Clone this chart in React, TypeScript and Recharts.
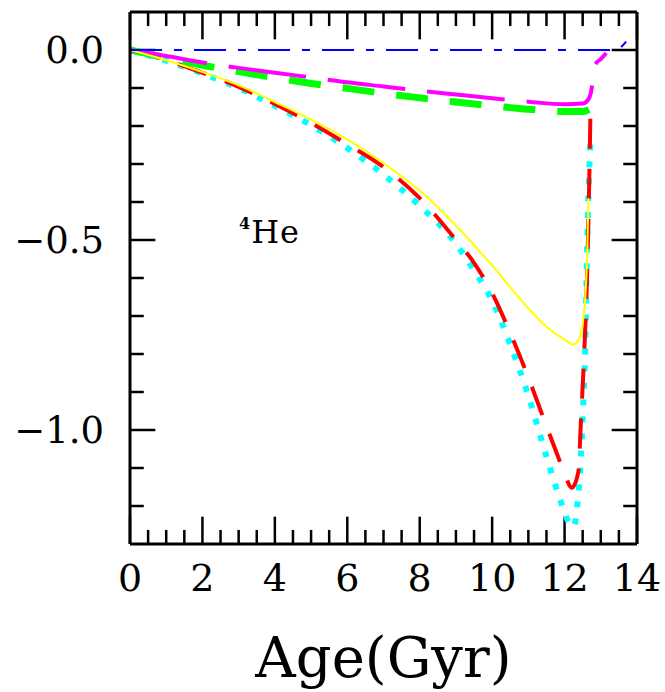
import { Line, LineChart, ReferenceLine, XAxis, YAxis } from "recharts";

// tick positions
const xTicks = [0, 2, 4, 6, 8, 10, 12, 14];
const xMinorTicks = [0.5, 1, 1.5, 2.5, 3, 3.5, 4.5, 5, 5.5, 6.5, 7, 7.5, 8.5, 9, 9.5, 10.5, 11, 11.5, 12.5, 13, 13.5];
const yTicks = [0, -0.5, -1.0];
const yMinorTicks = [-0.1, -0.2, -0.3, -0.4, -0.6, -0.7, -0.8, -0.9, -1.1, -1.2];

// reference (dash-dot blue)
const blueAge = [0, 13.4, 13.7];
const blueVal = [0, 0, 0.022];

// magenta long dashes
const magentaAge = [0, 1, 2, 3, 4, 5, 6, 7, 8, 9, 10, 11, 12, 12.5, 12.65, 12.72, 12.77, 12.8, 12.87, 13.0, 13.15];
const magentaVal = [0, -0.016, -0.033, -0.047, -0.06, -0.072, -0.085, -0.096, -0.107, -0.117, -0.127, -0.136, -0.143, -0.141, -0.131, -0.115, -0.085, -0.05, -0.035, -0.024, -0.008];

// green thick dashes
const greenAge = [0, 1, 2, 3, 4, 5, 6, 7, 8, 9, 10, 11, 12, 12.5, 12.7];
const greenVal = [0, -0.02, -0.04, -0.057, -0.073, -0.088, -0.101, -0.114, -0.126, -0.137, -0.147, -0.156, -0.162, -0.162, -0.155];

// yellow solid
const yellowAge = [0, 1, 2, 3, 4, 5, 6, 7, 8, 9, 10, 11, 11.5, 12, 12.25, 12.4, 12.5, 12.58, 12.63, 12.66];
const yellowVal = [0, -0.027, -0.058, -0.093, -0.137, -0.183, -0.235, -0.298, -0.37, -0.462, -0.567, -0.68, -0.728, -0.762, -0.775, -0.76, -0.72, -0.64, -0.52, -0.39];

// red dashes
const redAge = [0, 1, 2, 3, 4, 5, 6, 7, 8, 9, 9.5, 10, 10.5, 11, 11.5, 11.8, 12.0, 12.2, 12.38, 12.45, 12.55, 12.62, 12.68, 12.72];
const redVal = [0, -0.027, -0.06, -0.097, -0.142, -0.192, -0.248, -0.308, -0.39, -0.5, -0.56, -0.64, -0.745, -0.862, -0.99, -1.065, -1.115, -1.152, -1.11, -0.98, -0.78, -0.6, -0.35, -0.135];

// cyan dots
const cyanAge = [0, 1, 2, 3, 4, 5, 6, 7, 8, 9, 9.5, 10, 10.5, 11, 11.5, 11.9, 12.1, 12.25, 12.35, 12.45, 12.52, 12.57, 12.62, 12.68, 12.72];
const cyanVal = [0, -0.028, -0.062, -0.1, -0.147, -0.198, -0.258, -0.328, -0.41, -0.51, -0.58, -0.66, -0.775, -0.91, -1.07, -1.19, -1.24, -1.255, -1.2, -1.07, -0.92, -0.79, -0.53, -0.32, -0.225];

const toPoints = (ages: number[], vals: number[]) => ages.map((x, i) => ({ x, y: vals[i] }));

const FONT = "DejaVu Serif";
const X_MIN = 0, X_MAX = 14;
const Y_MIN = -1.3, Y_MAX = 0.1;

// tick lengths in data units (x: ~36 px/Gyr, y: 380 px/unit)
const X_TICK_MAJ = 0.072, X_TICK_MIN = 0.037;
const Y_TICK_MAJ = 0.7, Y_TICK_MIN = 0.38;

const fmtY = (v: number) => (v === 0 ? "0.0" : "\u2212" + Math.abs(v).toFixed(1));

export default function App() {
    const series = [
        { key: "cyan", data: toPoints(cyanAge, cyanVal), color: "#00ffff", width: 6, dash: "6 11" },
        { key: "red", data: toPoints(redAge, redVal), color: "#ff0000", width: 4, dash: "30 20" },
        { key: "green", data: toPoints(greenAge, greenVal), color: "#00ff00", width: 7, dash: "32 22" },
        { key: "magenta", data: toPoints(magentaAge, magentaVal), color: "#ff00ff", width: 4, dash: "78 22" },
        { key: "yellow", data: toPoints(yellowAge, yellowVal), color: "#ffff00", width: 2, dash: undefined },
        { key: "blue", data: toPoints(blueAge, blueVal), color: "#0000ff", width: 2, dash: "32 12 8 12" },
    ];

    const frame = { stroke: "#000", strokeWidth: 3 };

    // inward tick marks on all four sides
    const xTickMarks = [
        ...xTicks.map(x => ({ x, len: X_TICK_MAJ })),
        ...xMinorTicks.map(x => ({ x, len: X_TICK_MIN })),
    ];
    const yTickMarks = [
        ...yTicks.map(y => ({ y, len: Y_TICK_MAJ })),
        ...yMinorTicks.map(y => ({ y, len: Y_TICK_MIN })),
    ];

    return (
        <div style={{ position: "absolute", left: 0, top: 0, background: "#fff" }}>
            <LineChart width={665} height={692} margin={{ top: 12, right: 28, left: 10, bottom: 8 }}>
                <XAxis
                    xAxisId="x"
                    dataKey="x"
                    type="number"
                    domain={[X_MIN, X_MAX]}
                    allowDataOverflow
                    ticks={xTicks}
                    interval={0}
                    height={140}
                    tickLine={false}
                    tickSize={0}
                    tickMargin={20}
                    axisLine={frame}
                    tick={{ fontSize: 38, fontFamily: FONT, fill: "#000" }}
                    label={{ value: "Age(Gyr)", position: "insideBottom", offset: 7, fontSize: 56, fontFamily: FONT, fill: "#000" }}
                />
                <YAxis
                    yAxisId="y"
                    type="number"
                    domain={[Y_MIN, Y_MAX]}
                    allowDataOverflow
                    ticks={yTicks}
                    interval={0}
                    width={120}
                    tickLine={false}
                    tickSize={0}
                    tickMargin={26}
                    axisLine={frame}
                    tickFormatter={fmtY}
                    tick={{ fontSize: 37, fontFamily: FONT, fill: "#000" }}
                />

                <ReferenceLine xAxisId="x" yAxisId="y" y={Y_MAX} stroke="#000" strokeWidth={3} />
                <ReferenceLine xAxisId="x" yAxisId="y" x={X_MAX} stroke="#000" strokeWidth={3} />

                {xTickMarks.map(t => (
                    <ReferenceLine key={`xb-${t.x}`} xAxisId="x" yAxisId="y" stroke="#000" strokeWidth={2.5}
                        segment={[{ x: t.x, y: Y_MIN }, { x: t.x, y: Y_MIN + t.len }]} />
                ))}
                {xTickMarks.map(t => (
                    <ReferenceLine key={`xt-${t.x}`} xAxisId="x" yAxisId="y" stroke="#000" strokeWidth={2.5}
                        segment={[{ x: t.x, y: Y_MAX }, { x: t.x, y: Y_MAX - t.len }]} />
                ))}
                {yTickMarks.map(t => (
                    <ReferenceLine key={`yl-${t.y}`} xAxisId="x" yAxisId="y" stroke="#000" strokeWidth={2.5}
                        segment={[{ x: X_MIN, y: t.y }, { x: X_MIN + t.len, y: t.y }]} />
                ))}
                {yTickMarks.map(t => (
                    <ReferenceLine key={`yr-${t.y}`} xAxisId="x" yAxisId="y" stroke="#000" strokeWidth={2.5}
                        segment={[{ x: X_MAX, y: t.y }, { x: X_MAX - t.len, y: t.y }]} />
                ))}

                {series.map(s => (
                    <Line
                        key={s.key}
                        xAxisId="x"
                        yAxisId="y"
                        data={s.data}
                        dataKey="y"
                        type="monotone"
                        stroke={s.color}
                        strokeWidth={s.width}
                        strokeDasharray={s.dash}
                        dot={false}
                        activeDot={false}
                        isAnimationActive={false}
                    />
                ))}

                <text x={239} y={243} fontFamily={FONT} fill="#000">
                    <tspan fontSize={16} fontWeight="bold" dy={-14}>4</tspan>
                    <tspan fontSize={32} dy={14} dx={1} letterSpacing={1}>He</tspan>
                </text>
            </LineChart>
        </div>
    );
}
